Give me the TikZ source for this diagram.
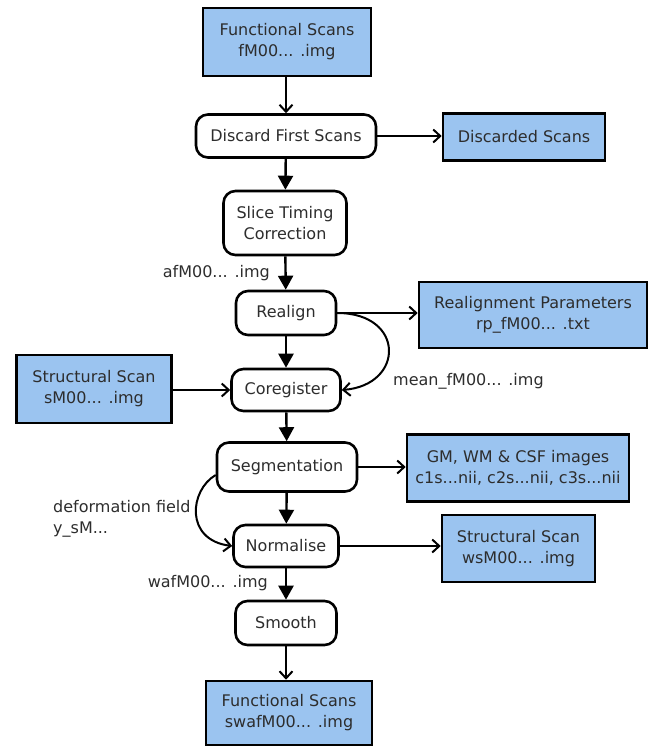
\documentclass[tikz,border=0pt]{standalone}
\usepackage{fontspec}
\setmainfont{DejaVu Sans}
\usetikzlibrary{arrows.meta}
\definecolor{scanblue}{RGB}{155,196,240}
\definecolor{txtgray}{RGB}{45,45,45}
\begin{document}
\begin{tikzpicture}[x=1pt,y=-1pt,
  font=\fontsize{16}{21}\selectfont,
  filebox/.style={draw,line width=2.6pt,fill=scanblue,text=txtgray,align=center,inner sep=0pt},
  procbox/.style={draw,line width=2.6pt,rounded corners=12pt,fill=white,text=txtgray,align=center,inner sep=0pt},
  flow/.style={line width=2.4pt,-{Triangle[length=14pt,width=15pt]}},
  feed/.style={line width=2pt,-{Straight Barb[length=7pt,width=13pt]}},
  lbl/.style={text=txtgray,inner sep=0pt}]
\useasboundingbox (0,0) rectangle (654,750);

% main pipeline
\node[filebox,minimum width=168pt,minimum height=68pt] (func) at (287,42) {Functional Scans\\fM00... .img};
\node[procbox,minimum width=180pt,minimum height=43pt] (discard) at (286,136) {Discard First Scans};
\node[filebox,minimum width=162pt,minimum height=47pt] (discarded) at (524,137) {Discarded Scans};
\node[procbox,minimum width=123pt,minimum height=64pt] (slice) at (285,223) {Slice Timing\\Correction};
\node[procbox,minimum width=100pt,minimum height=44pt] (realign) at (286,313) {Realign};
\node[filebox,minimum width=228pt,minimum height=66pt] (rparams) at (533,315) {Realignment Parameters\\rp\_fM00... .txt};
\node[filebox,minimum width=155pt,minimum height=68pt] (struct) at (94,389) {Structural Scan\\sM00... .img};
\node[procbox,minimum width=109pt,minimum height=42pt] (coreg) at (286,390) {Coregister};
\node[procbox,minimum width=140pt,minimum height=49pt] (segm) at (287,467) {Segmentation};
\node[filebox,minimum width=222pt,minimum height=67pt] (tissue) at (518,468) {GM, WM \& CSF images\\c1s...nii, c2s...nii, c3s...nii};
\node[procbox,minimum width=105pt,minimum height=42pt] (norm) at (286,546) {Normalise};
\node[filebox,minimum width=153pt,minimum height=67pt] (wstruct) at (518.5,548.5) {Structural Scan\\wsM00... .img};
\node[procbox,minimum width=101pt,minimum height=44pt] (smooth) at (286,623) {Smooth};
\node[filebox,minimum width=166pt,minimum height=64pt] (swaf) at (289,713) {Functional Scans\\swafM00... .img};

% labels
\node[lbl,anchor=east] (afLabel) at (270,273) {afM00... .img};
\node[lbl,anchor=west] (meanLabel) at (393,381) {mean\_fM00... .img};
\node[lbl,anchor=west,align=left] (defLabel) at (53,519) {deformation field\\y\_sM...};
\node[lbl,anchor=east] (wafLabel) at (268,583) {wafM00... .img};

% connectors
\draw[feed] (discard.north |- func.south) -- (discard.north);
\draw[flow] (discard) -- (slice);
\draw[feed] (discard.east) -- (discard.east -| discarded.west);
\draw[flow] (slice) -- (realign);
\draw[feed] (realign.east) -- (realign.east -| rparams.west);
\draw[flow] (realign) -- (coreg);
\draw[feed] (realign.east) .. controls +(68,0) and +(63,-5) .. (coreg.east);
\draw[feed] (struct.east |- coreg.west) -- (coreg.west);
\draw[flow] (coreg) -- (segm);
\draw[feed] (segm) -- (segm -| tissue.west);
\draw[flow] (segm) -- (norm);
\draw[feed] ([yshift=-8pt]segm.west) .. controls +(-26,15) and +(-48,-6) .. (norm.west);
\draw[feed] (norm) -- (norm -| wstruct.west);
\draw[flow] (norm) -- (smooth);
\draw[feed] (smooth.south) -- (smooth.south |- swaf.north);
\end{tikzpicture}
\end{document}
